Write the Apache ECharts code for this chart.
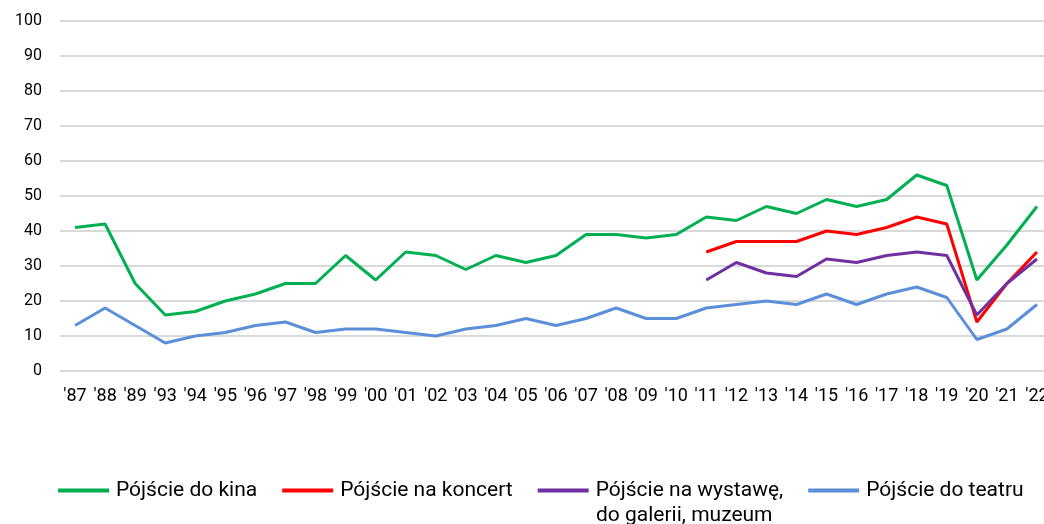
<!DOCTYPE html>
<html><head><meta charset="utf-8">
<script src="https://cdn.jsdelivr.net/npm/echarts@6/dist/echarts.min.js"></script>
<style>html,body{margin:0;padding:0;background:#fff}#c{width:1044px;height:524px}</style>
</head><body><div id="c"></div>
<script>
const categories = ["'87","'88","'89","'93","'94","'95","'96","'97","'98","'99","'00","'01","'02","'03","'04","'05","'06","'07","'08","'09","'10","'11","'12","'13","'14","'15","'16","'17","'18","'19","'20","'21","'22"];
const kino = [41,42,25,16,17,20,22,25,25,33,26,34,33,29,33,31,33,39,39,38,39,44,43,47,45,49,47,49,56,53,26,36,47];
const koncert = [null,null,null,null,null,null,null,null,null,null,null,null,null,null,null,null,null,null,null,null,null,34,37,37,37,40,39,41,44,42,14,25,34];
const wystawa = [null,null,null,null,null,null,null,null,null,null,null,null,null,null,null,null,null,null,null,null,null,26,31,28,27,32,31,33,34,33,16,25,32];
const teatr = [13,18,13,8,10,11,13,14,11,12,12,11,10,12,13,15,13,15,18,15,15,18,19,20,19,22,19,22,24,21,9,12,19];
const names = ['Pójście do kina','Pójście na koncert','Pójście na wystawę,','Pójście do teatru'];
const colors = ['#00b050','#ff0000','#7030a0','#5b8fd9'];
const chart = echarts.init(document.getElementById('c'));
const mk = (i, d) => ({name: names[i], type: 'line', data: d, symbol: 'none', connectNulls: false,
  lineStyle: {width: 3, color: colors[i]}, itemStyle: {color: colors[i]}});
chart.setOption({
  animation: false,
  textStyle: {fontFamily: 'Roboto'},
  grid: {left: 60, top: 21, width: 992, height: 350, containLabel: false, outerBoundsMode: 'none'},
  xAxis: {type: 'category', data: categories, boundaryGap: true,
    axisLine: {show: false}, axisTick: {show: false},
    axisLabel: {color: '#000', fontSize: 18, margin: 16, interval: 0, hideOverlap: false}},
  yAxis: {type: 'value', min: 0, max: 100, interval: 10,
    axisLabel: {color: '#000', fontSize: 16, margin: 18},
    splitLine: {lineStyle: {color: '#d9d9d9', width: 2}}},
  legend: {left: 53, top: 475, itemWidth: 51, itemHeight: 4, itemGap: 25, icon: 'rect',
    textStyle: {fontSize: 21, color: '#000', padding: [0,0,0,2]},
    data: names},
  graphic: [{type: 'text', left: 596, top: 505, style: {text: 'do galerii, muzeum', fontSize: 21, fontFamily: 'Roboto', fill: '#000'}}],
  series: [mk(0, kino), mk(1, koncert), mk(2, wystawa), mk(3, teatr)]
});
</script></body></html>
